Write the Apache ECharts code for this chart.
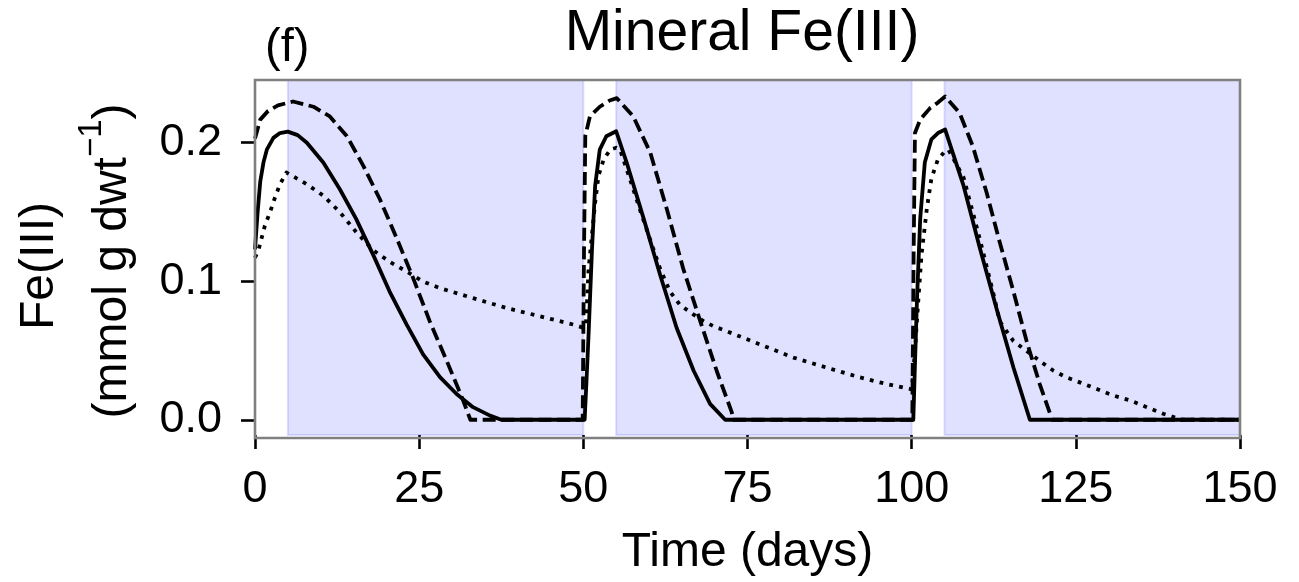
<!DOCTYPE html>
<html>
<head>
<meta charset="utf-8">
<script src="https://cdn.jsdelivr.net/npm/echarts@6/dist/echarts.min.js"></script>
<style>
html,body{margin:0;padding:0;background:#fff;}
#chart{width:1299px;height:582px;}
</style>
</head>
<body>
<div id="chart"></div>
<script>
// ---- data ----
const xTicks = [0, 25, 50, 75, 100, 125, 150];
const yTicks = [0, 0.1, 0.2];
const shadeStarts = [5, 55, 105];
const shadeEnds = [50, 100, 150];

const solidDays = [0, 0.4, 0.8, 1.3, 1.8, 2.8, 3.8, 5, 6.5, 7.9, 10.4, 12.9, 15.4, 18, 20.5, 23.1, 25.6, 28.2, 30.7, 33.2, 35.8, 37.5,
  50.2, 50.5, 50.8, 51.3, 51.8, 52.5, 53.5, 55, 56.6, 59.2, 61.7, 64.2, 66.8, 69.3, 71.6,
  100.25, 100.5, 100.8, 101.3, 102, 103, 104, 105.1, 107.9, 110.4, 112.9, 115.5, 118, 150];
const solidVals = [0.123, 0.15, 0.172, 0.186, 0.195, 0.2035, 0.207, 0.208, 0.2055, 0.2, 0.1857, 0.1666, 0.145, 0.119, 0.0926, 0.0687, 0.0472, 0.0306, 0.0186, 0.0091, 0.003, 0,
  0, 0.03, 0.062, 0.121, 0.169, 0.195, 0.2047, 0.2083, 0.1857, 0.145, 0.1045, 0.0664, 0.0354, 0.0115, 0,
  0, 0.04, 0.0855, 0.145, 0.1857, 0.2024, 0.207, 0.2095, 0.169, 0.1236, 0.0807, 0.0377, 0, 0];

const dashedDays = [0, 0.8, 2, 3.5, 5.8, 8.9, 11.4, 14, 16.5, 19, 21.6, 24.1, 26.6, 29.2, 31.7, 32.8,
  49.9, 50.1, 50.3, 51, 52.5, 54, 55.1, 57.6, 60.2, 62.7, 65.2, 67.8, 70.3, 72.6, 72.8,
  100.1, 100.3, 100.5, 101.3, 102.8, 104, 105.1, 107.3, 109.3, 111.4, 113.4, 115.5, 117.5, 119.5, 121.1, 121.4, 150];
const dashedVals = [0.203, 0.2167, 0.223, 0.227, 0.2298, 0.226, 0.219, 0.2047, 0.1833, 0.1594, 0.1308, 0.1021, 0.0712, 0.0425, 0.0139, 0,
  0, 0.12, 0.205, 0.219, 0.226, 0.2305, 0.2322, 0.219, 0.1928, 0.1523, 0.1093, 0.0712, 0.0354, 0.0055, 0,
  0, 0.12, 0.207, 0.2167, 0.225, 0.229, 0.2334, 0.2215, 0.1976, 0.1642, 0.1284, 0.0926, 0.0568, 0.0258, 0.004, 0, 0];

const dottedDays = [0, 0.5, 1.5, 2.3, 3.05, 3.8, 4.8, 5, 7.9, 10.4, 12.9, 15.4, 18, 20.5, 23.1, 25.6, 28.2, 33.2, 38.3, 43.4, 48.5, 50,
  50.4, 50.8, 51.3, 51.8, 52.3, 53.1, 54.1, 55, 55.6, 57.1, 58.6, 60.1, 61.7, 63.2, 64.7, 66.8, 68.3, 69.8, 71.8, 76.9, 82, 87, 92.1, 96, 100,
  100.5, 101, 101.5, 102.3, 103, 104, 105.1, 105.6, 107.9, 110.4, 112.5, 113.4, 115.5, 117.5, 119.5, 121.6, 123.6, 125.6, 128.2, 130.7, 133.3, 135.8, 138.3, 140.3, 141, 150];
const dottedVals = [0.117, 0.122, 0.14, 0.15, 0.1606, 0.17, 0.1785, 0.179, 0.17, 0.1618, 0.15, 0.1356, 0.1224, 0.1141, 0.107, 0.0998, 0.095, 0.0878, 0.0807, 0.0747, 0.0687, 0.0664,
  0.0687, 0.109, 0.133, 0.157, 0.176, 0.188, 0.195, 0.1964, 0.195, 0.1737, 0.152, 0.131, 0.109, 0.0926, 0.083, 0.0759, 0.0712, 0.0676, 0.064, 0.0544, 0.0449, 0.0377, 0.0306, 0.026, 0.022,
  0.0497, 0.0855, 0.119, 0.152, 0.174, 0.188, 0.194, 0.195, 0.175, 0.13, 0.09, 0.0711, 0.0568, 0.0497, 0.0425, 0.0354, 0.0306, 0.027, 0.0222, 0.0175, 0.0139, 0.0091, 0.0043, 0.0014, 0, 0];

// ---- build ----
const zip = (a, b) => a.map((d, i) => [d, b[i]]);
const chart = echarts.init(document.getElementById('chart'), null, {renderer: 'canvas'});
const FONT = 'Liberation Sans, Arial, Helvetica, sans-serif';
const PL = 255, PR = 1240, PT = 80, PB = 438;

const baseLine = (name, data, type) => ({
  name, type: 'line', data, showSymbol: false, symbol: 'none',
  smooth: false, clip: true,
  lineStyle: {color: '#000', width: 3.8, type: type, cap: 'butt', join: 'round'},
  z: 3
});

const shadeData = shadeStarts.map((s, i) => [{xAxis: s}, {xAxis: shadeEnds[i]}]);

const option = {
  animation: false,
  backgroundColor: '#fff',
  grid: {left: PL, right: 1299 - PR, top: PT, bottom: 582 - PB, show: false, containLabel: false},
  xAxis: {
    type: 'value', min: 0, max: 150, interval: 25,
    axisLine: {show: false, onZero: false},
    axisTick: {show: true, inside: false, length: 14, lineStyle: {color: '#000', width: 2.6}},
    axisLabel: {show: true, margin: 32, fontSize: 45, color: '#000', fontFamily: FONT},
    splitLine: {show: false},
    name: 'Time (days)', nameLocation: 'middle', nameGap: 94,
    nameTextStyle: {fontSize: 48, color: '#000', fontFamily: FONT}
  },
  yAxis: {
    type: 'value', min: -0.011, max: 0.2453,
    axisLine: {show: false, onZero: false},
    axisTick: {show: true, inside: false, length: 14, lineStyle: {color: '#000', width: 2.6},
      customValues: yTicks},
    axisLabel: {show: true, margin: 33, fontSize: 45, color: '#000', fontFamily: FONT,
      customValues: yTicks, formatter: v => v.toFixed(1)},
    splitLine: {show: false}
  },
  series: [
    Object.assign(baseLine('solid', zip(solidDays, solidVals), 'solid'), {
      markArea: {silent: true, z: 1,
        itemStyle: {color: 'rgba(0,0,255,0.12)', borderColor: 'rgba(0,0,255,0.12)', borderWidth: 2},
        data: shadeData}
    }),
    baseLine('dashed', zip(dashedDays, dashedVals), [13, 5.6]),
    baseLine('dotted', zip(dottedDays, dottedVals), [3.8, 6.2])
  ],
  graphic: [
    {type: 'rect', z: 100, silent: true,
      shape: {x: PL, y: PT, width: PR - PL, height: PB - PT},
      style: {fill: 'none', stroke: '#808080', lineWidth: 2.6}},
    {type: 'text', x: 742, y: 34, z: 10,
      style: {text: 'Mineral Fe(III)', font: '57px ' + FONT, fill: '#000', align: 'center', verticalAlign: 'middle'}},
    {type: 'text', x: 265, y: 48, z: 10,
      style: {text: '(f)', font: '47px ' + FONT, fill: '#000', align: 'left', verticalAlign: 'middle'}},
    {type: 'text', x: 40, y: 266, rotation: Math.PI / 2, z: 10,
      style: {text: 'Fe(III)', font: '48px ' + FONT, fill: '#000', align: 'center', verticalAlign: 'middle'}},
    {type: 'text', x: 106, y: 261, rotation: Math.PI / 2, z: 10,
      style: {
        text: '{m|(mmol g dwt}{s|−1}{m|)}',
        align: 'center', verticalAlign: 'middle', fill: '#000',
        rich: {
          m: {fontSize: 48, fontFamily: FONT, lineHeight: 62, verticalAlign: 'bottom', fill: '#000'},
          s: {fontSize: 33, fontFamily: FONT, lineHeight: 33, verticalAlign: 'top', fill: '#000'}
        }
      }}
  ]
};
chart.setOption(option);
</script>
</body>
</html>
